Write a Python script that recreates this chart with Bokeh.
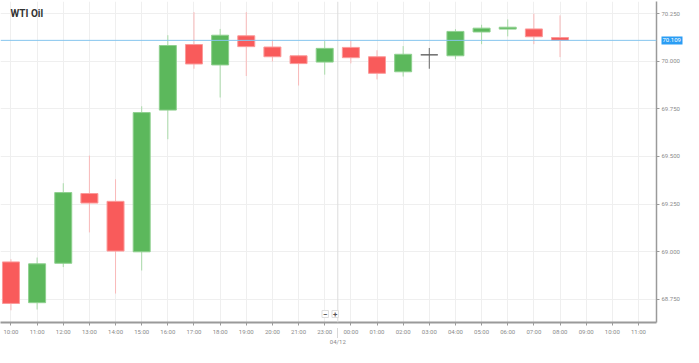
from bokeh.plotting import figure
from bokeh.models import (FixedTicker, Span, Label, Range1d, LinearAxis,
                          NumeralTickFormatter, ColumnDataSource)
from bokeh.embed import file_html
from bokeh.resources import INLINE

# ---- data -------------------------------------------------------------
tick_labels = ["10:00", "11:00", "12:00", "13:00", "14:00", "15:00", "16:00",
               "17:00", "18:00", "19:00", "20:00", "21:00", "23:00", "00:00",
               "01:00", "02:00", "03:00", "04:00", "05:00", "06:00", "07:00",
               "08:00", "09:00", "10:00", "11:00"]
date_label = "04/12"
date_pos = 12.5          # boundary between 23:00 and 00:00
title_text = "WTI Oil"
last_price = 70.109
last_price_text = "70.109"

opens = [68.946, 68.732, 68.939, 69.305, 69.264, 68.999, 69.743, 70.087,
         69.980, 70.133, 70.074, 70.028, 69.995, 70.072, 70.023, 69.944,
         70.033, 70.028, 70.153, 70.168, 70.169, 70.124]
highs = [68.960, 68.969, 69.359, 69.504, 69.380, 69.763, 70.136, 70.257,
         70.169, 70.257, 70.112, 70.033, 70.105, 70.109, 70.057, 70.079,
         70.069, 70.168, 70.191, 70.219, 70.249, 70.240]
lows = [68.692, 68.696, 68.919, 69.101, 68.780, 68.901, 69.590, 69.960,
        69.809, 69.922, 69.998, 69.872, 69.929, 69.988, 69.904, 69.919,
        69.960, 70.010, 70.089, 70.130, 70.089, 70.021]
closes = [68.728, 68.936, 69.310, 69.255, 69.003, 69.730, 70.082, 69.985,
          70.136, 70.076, 70.023, 69.987, 70.067, 70.018, 69.936, 70.036,
          70.033, 70.156, 70.173, 70.178, 70.128, 70.109]
y_ticks = [68.75, 69.0, 69.25, 69.5, 69.75, 70.0, 70.25]

# ---- styling ----------------------------------------------------------
UP, UP_EDGE, UP_WICK = "#5cb85c", "#8fd08f", "#a9dba9"
DN, DN_EDGE, DN_WICK = "#f95b5b", "#fb9a9a", "#f9b9b9"
FLAT = "#666666"
FONT = "Roboto"
AX = "#9a9a9a"
LBL = "#8a8a8a"
TAG = "#2a9df4"

xs = list(range(len(opens)))
fill, edge, wick = [], [], []
for o, c in zip(opens, closes):
    if c > o:
        fill.append(UP); edge.append(UP_EDGE); wick.append(UP_WICK)
    elif c < o:
        fill.append(DN); edge.append(DN_EDGE); wick.append(DN_WICK)
    else:
        fill.append(FLAT); edge.append(FLAT); wick.append(FLAT)

src = ColumnDataSource(dict(
    x=xs, open=opens, high=highs, low=lows, close=closes,
    top=[max(o, c) for o, c in zip(opens, closes)],
    bottom=[min(o, c) for o, c in zip(opens, closes)],
    fill=fill, edge=edge, wick=wick, time=tick_labels[:len(opens)]))

X0, X1 = -0.4, 24.69
Y0, Y1 = 68.628, 70.313

p = figure(width=683, height=347, output_backend="svg", toolbar_location=None,
           x_range=Range1d(X0, X1), y_range=Range1d(Y0, Y1),
           y_axis_location="right", x_axis_location="below",
           min_border_left=0, min_border_top=1, min_border_right=24,
           min_border_bottom=0, background_fill_color="white",
           border_fill_color="white")
p.outline_line_color = None

# grid
p.xgrid.ticker = FixedTicker(ticks=list(range(len(tick_labels))))
p.xgrid.grid_line_color = "#efefef"
p.ygrid.grid_line_color = "#efefef"

# day separator
p.add_layout(Span(location=date_pos, dimension="height", line_color="#dcdcdc",
                  line_width=1))

# last price line
p.add_layout(Span(location=last_price, dimension="width", line_color="#86c5ee",
                  line_width=1))

# candles
p.segment(x0="x", x1="x", y0="low", y1="high", color="wick", line_width=1,
          source=src)
p.vbar(x="x", width=0.65, top="top", bottom="bottom", fill_color="fill",
       line_color="edge", line_width=1, source=src)

# price axis
ya = p.yaxis[0]
ya.ticker = FixedTicker(ticks=y_ticks)
ya.formatter = NumeralTickFormatter(format="0.000")
ya.axis_line_color = AX
ya.axis_line_width = 1.5
ya.major_tick_line_color = AX
ya.major_tick_out = 3
ya.major_tick_in = 0
ya.minor_tick_line_color = None
ya.major_label_text_font = FONT
ya.major_label_text_font_size = "6px"
ya.major_label_text_color = LBL
ya.major_label_standoff = 2

# last-price tag: an outer axis whose tick reaches back over the price labels
ta = LinearAxis(ticker=FixedTicker(ticks=[last_price]),
                major_label_overrides={last_price: last_price_text})
ta.axis_line_color = None
ta.major_tick_line_color = TAG
ta.major_tick_line_width = 8
ta.major_tick_line_cap = "butt"
ta.major_tick_out = 0
ta.major_tick_in = 21
ta.minor_tick_line_color = None
ta.major_label_text_font = FONT
ta.major_label_text_font_size = "6px"
ta.major_label_text_color = "white"
ta.major_label_standoff = -20
p.add_layout(ta, "right")

# hour axis
xa = p.xaxis[0]
xa.ticker = FixedTicker(ticks=list(range(len(tick_labels))))
xa.major_label_overrides = {i: t for i, t in enumerate(tick_labels)}
xa.axis_line_color = AX
xa.axis_line_width = 2
xa.major_tick_line_color = AX
xa.major_tick_out = 3
xa.major_tick_in = 0
xa.minor_tick_line_color = None
xa.major_label_text_font = FONT
xa.major_label_text_font_size = "6px"
xa.major_label_text_color = LBL
xa.major_label_standoff = 2

# date axis under the hour axis, dashed tick reaching up at the day boundary
da = LinearAxis(ticker=FixedTicker(ticks=[date_pos]),
                major_label_overrides={date_pos: date_label})
da.axis_line_color = None
da.major_tick_line_color = "#b0b0b0"
da.major_tick_line_dash = "1 1"
da.major_tick_out = 0
da.major_tick_in = 10
da.minor_tick_line_color = None
da.major_label_text_font = FONT
da.major_label_text_font_size = "6px"
da.major_label_text_color = LBL
da.major_label_standoff = 0
p.add_layout(da, "below")

# title inside the plot
p.add_layout(Label(x=X0, y=Y1, x_offset=10, y_offset=-6,
                   text=title_text, text_font=FONT,
                   text_font_style="bold", text_font_size="10px",
                   text_color="#333333", text_baseline="top"))

# zoom buttons
for xpos, sym in zip([12.02, 12.4], ["\u2212", "+"]):
    p.add_layout(Label(x=xpos, y=Y0, y_offset=5,
                       text=sym, text_font=FONT, text_font_size="8px",
                       text_font_style="bold", text_color="#555555",
                       text_align="center", text_baseline="bottom",
                       background_fill_color="white",
                       border_line_color="#dddddd", padding=1))

open("out.html", "w").write(file_html(p, INLINE))
